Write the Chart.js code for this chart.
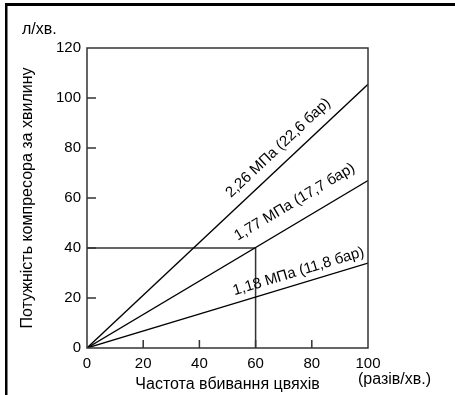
<!DOCTYPE html>
<html>
<head>
    <meta charset="utf-8">
    <script src="https://cdn.jsdelivr.net/npm/chart.js@4"></script>
    <style>
        html, body {
            margin: 0;
            padding: 0;
            background: #fff;
        }
        .chart-box {
            width: 455px;
            height: 395px;
        }
    </style>
</head>
<body>

    <div class="chart-box">
        <canvas id="myChart" width="455" height="395"></canvas>
    </div>

    <script>
        // Частота вбивання цвяхів (разів/хв.) - кінці прямих
        const frequency = [0, 100];
        // Потужність компресора (л/хв.) для кожного тиску
        const flow226 = [0, 105.5];
        const flow177 = [0, 67];
        const flow118 = [0, 34];
        const seriesNames = ['2,26 МПа (22,6 бар)', '1,77 МПа (17,7 бар)', '1,18 МПа (11,8 бар)'];
        // допоміжні лінії (60 разів/хв. -> 40 л/хв.)
        const guideX = [0, 60, 60];
        const guideY = [40, 40, 0];
        const xTicks = [0, 20, 40, 60, 80, 100];
        const yTicks = [0, 20, 40, 60, 80, 100, 120];

        const FONT = "'Liberation Sans', Arial, sans-serif";

        function toPoints(xs, ys) {
            return xs.map((x, i) => ({ x: x, y: ys[i] }));
        }

        // положення підписів уздовж прямих: значення x та відступ від лінії (px)
        const labelPlacement = [
            { at: 71.7, offset: 15 },
            { at: 77.4, offset: 19 },
            { at: 76.5, offset: 12 }
        ];

        const decorPlugin = {
            id: 'decor',
            beforeDraw(chart) {
                const ctx = chart.ctx;
                ctx.save();
                // рамка зліва і зверху
                ctx.fillStyle = '#000';
                ctx.fillRect(5, 3, 455, 3);
                ctx.fillRect(5, 3, 2.5, 400);
                ctx.restore();
            },
            afterDraw(chart) {
                const ctx = chart.ctx;
                const area = chart.chartArea;
                const xs = chart.scales.x;
                const ys = chart.scales.y;
                ctx.save();

                // рамка області графіка
                ctx.strokeStyle = '#333';
                ctx.lineWidth = 1.5;
                ctx.strokeRect(area.left, area.top, area.right - area.left, area.bottom - area.top);

                // внутрішні поділки
                ctx.beginPath();
                yTicks.slice(1, -1).forEach(v => {
                    const py = ys.getPixelForValue(v);
                    ctx.moveTo(area.left, py);
                    ctx.lineTo(area.left + 9, py);
                });
                xTicks.slice(1, -1).forEach(v => {
                    const px = xs.getPixelForValue(v);
                    ctx.moveTo(px, area.bottom);
                    ctx.lineTo(px, area.bottom - 8);
                });
                ctx.stroke();

                // підписи прямих
                ctx.fillStyle = '#000';
                ctx.font = '15px ' + FONT;
                ctx.textAlign = 'center';
                ctx.textBaseline = 'middle';
                [flow226, flow177, flow118].forEach((ys_, i) => {
                    const x0 = xs.getPixelForValue(frequency[0]);
                    const y0 = ys.getPixelForValue(ys_[0]);
                    const x1 = xs.getPixelForValue(frequency[1]);
                    const y1 = ys.getPixelForValue(ys_[1]);
                    const ang = Math.atan2(y1 - y0, x1 - x0);
                    const p = labelPlacement[i];
                    const t = (p.at - frequency[0]) / (frequency[1] - frequency[0]);
                    const ax = x0 + (x1 - x0) * t;
                    const ay = y0 + (y1 - y0) * t;
                    ctx.save();
                    ctx.translate(ax, ay);
                    ctx.rotate(ang);
                    ctx.fillText(seriesNames[i], 0, -p.offset);
                    ctx.restore();
                });

                // одиниці
                ctx.font = '16px ' + FONT;
                ctx.textAlign = 'left';
                ctx.fillText('л/хв.', 22, 30);
                ctx.fillText('(разів/хв.)', area.right - 10, 380);

                ctx.restore();
            }
        };

        const lineStyle = {
            borderColor: '#000',
            borderWidth: 1.3,
            pointRadius: 0,
            showLine: true,
            fill: false
        };

        const ctx = document.getElementById('myChart').getContext('2d');
        const myChart = new Chart(ctx, {
            type: 'scatter',
            data: {
                datasets: [
                    Object.assign({ label: seriesNames[0], data: toPoints(frequency, flow226) }, lineStyle),
                    Object.assign({ label: seriesNames[1], data: toPoints(frequency, flow177) }, lineStyle),
                    Object.assign({ label: seriesNames[2], data: toPoints(frequency, flow118) }, lineStyle),
                    Object.assign({ label: 'guide', data: toPoints(guideX, guideY) }, lineStyle, { borderColor: '#333', borderWidth: 1.5 })
                ]
            },
            options: {
                responsive: false,
                animation: false,
                layout: {
                    padding: { left: 0, top: 48, right: 87, bottom: 0 }
                },
                plugins: {
                    legend: { display: false },
                    tooltip: { enabled: false }
                },
                scales: {
                    x: {
                        type: 'linear',
                        min: 0,
                        max: 100,
                        afterFit: s => { s.height = 47; },
                        afterBuildTicks: s => { s.ticks = xTicks.map(v => ({ value: v })); },
                        grid: { display: false, drawTicks: false },
                        border: { display: false },
                        ticks: {
                            color: '#000',
                            padding: 7,
                            maxRotation: 0,
                            font: { family: FONT, size: 15 }
                        },
                        title: {
                            display: true,
                            text: 'Частота вбивання цвяхів',
                            color: '#000',
                            padding: { top: 0, bottom: 1 },
                            font: { family: FONT, size: 16 }
                        }
                    },
                    y: {
                        type: 'linear',
                        min: 0,
                        max: 120,
                        afterFit: s => { s.width = 87; },
                        afterBuildTicks: s => { s.ticks = yTicks.map(v => ({ value: v })); },
                        grid: { display: false, drawTicks: false },
                        border: { display: false },
                        ticks: {
                            color: '#000',
                            padding: 6,
                            font: { family: FONT, size: 15 }
                        },
                        title: {
                            display: true,
                            text: 'Потужність компресора за хвилину',
                            color: '#000',
                            padding: { top: 18, bottom: 0 },
                            font: { family: FONT, size: 16 }
                        }
                    }
                }
            },
            plugins: [decorPlugin]
        });
    </script>

</body>
</html>
